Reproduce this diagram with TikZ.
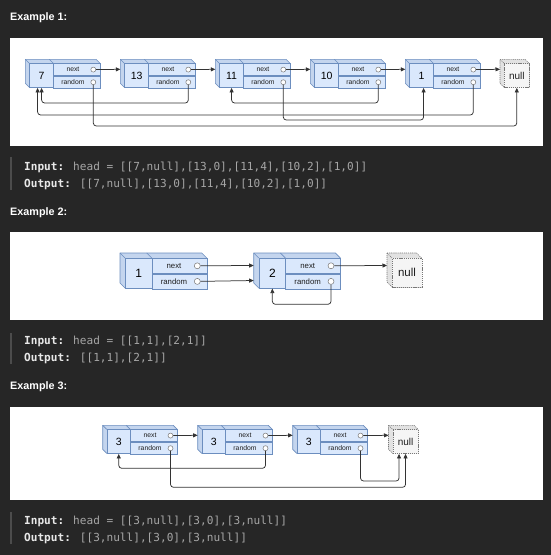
\documentclass[tikz,border=0pt]{standalone}
\usepackage{fontspec}
\setmainfont{Liberation Sans}
\newfontfamily\codefont{DejaVu Sans Mono}
\usetikzlibrary{arrows.meta}

\definecolor{pagebg}{HTML}{262626}
\definecolor{cubefront}{HTML}{DAE8FC}
\definecolor{cubeside}{HTML}{C4D5EE}
\definecolor{cubeedge}{HTML}{6C8EBF}
\definecolor{nullfront}{HTML}{F5F5F5}
\definecolor{nullside}{HTML}{E2E2E2}
\definecolor{nulledge}{HTML}{777777}
\definecolor{portedge}{HTML}{777777}
\definecolor{linkcol}{HTML}{333333}
\definecolor{labeltext}{HTML}{1E1E1E}
\definecolor{codelabel}{HTML}{E8E8E8}
\definecolor{codevalue}{HTML}{A6A6A6}
\definecolor{codebar}{HTML}{4C4C4C}

% size parameters of the list cells (set again before each example)
\def\cellvw{24}\def\cellfw{46.7}\def\cellh{24}\def\celld{4}
\def\cellpo{7.3}\def\celllo{4}\def\cellpr{5}
\def\cellvfs{10.5}\def\celllfs{6.8}\def\cellnfs{10}

\tikzset{
  cubeface/.style={fill=cubeside, draw=cubeedge, line width=0.6pt, line join=round},
  valbox/.style={draw=cubeedge, fill=cubefront, line width=0.6pt, inner sep=0pt,
    anchor=north west, text=black, font=\fontsize{\cellvfs}{\cellvfs}\selectfont},
  fieldbox/.style={draw=cubeedge, fill=cubefront, line width=0.6pt, inner sep=0pt, anchor=north west},
  fieldlabel/.style={inner sep=0pt, text=labeltext, font=\fontsize{\celllfs}{\celllfs}\selectfont},
  port/.style={circle, draw=portedge, fill=white, line width=0.5pt, inner sep=0pt, minimum size=\cellpr},
  nullface/.style={fill=nullside, draw=nulledge, line width=0.6pt, dash pattern=on 1.2pt off 0.9pt},
  nullbox/.style={draw=nulledge, fill=nullfront, line width=0.6pt, dash pattern=on 1.2pt off 0.9pt,
    inner sep=0pt, anchor=north west, text=labeltext, font=\fontsize{\cellnfs}{\cellnfs}\selectfont},
  link/.style={draw=linkcol, line width=0.75pt, rounded corners=3pt,
    -{Triangle[length=4.5pt,width=4pt]}},
  heading/.style={inner sep=0pt, anchor=base west, text=white,
    font=\fontsize{10.8}{13}\selectfont\bfseries},
  codeline/.style={inner sep=0pt, anchor=base west, text=codevalue,
    font=\fontsize{11.1}{13}\selectfont\codefont},
  codebarline/.style={draw=codebar, line width=1.8pt},
}

% a list cell: value cube plus next/random fields
% #1 name, #2 x of front face, #3 y of front face, #4 value
\newcommand\listcell[4]{%
  \pgfmathsetmacro\cellxm{#2+\cellvw}%
  \pgfmathsetmacro\cellxr{#2+\cellvw+\cellfw}%
  \pgfmathsetmacro\cellyb{#3+\cellh}%
  \filldraw[cubeface] (#2-\celld,#3-\celld) -- (\cellxr-\celld,#3-\celld) -- (\cellxr,#3)
    -- (\cellxr,\cellyb) -- (#2,\cellyb) -- (#2-\celld,\cellyb-\celld) -- cycle;
  \draw[cubeface, fill=none] (#2-\celld,#3-\celld) -- (#2,#3) (\cellxm-\celld,#3-\celld) -- (\cellxm,#3);
  \node[valbox, minimum width=\cellvw, minimum height=\cellh] (#1v) at (#2,#3) {#4};
  \node[fieldbox, minimum width=\cellfw, minimum height=\cellh/2] (#1n) at (\cellxm,#3) {};
  \node[fieldbox, minimum width=\cellfw, minimum height=\cellh/2] (#1r) at (#1n.south west) {};
  \node[fieldlabel] (#1nt) at ([xshift=-\celllo]#1n.center) {next};
  \node[fieldlabel] (#1rt) at ([xshift=-\celllo]#1r.center) {random};
  \node[port] (#1nc) at ([xshift=-\cellpo]#1n.east) {};
  \node[port] (#1rc) at ([xshift=-\cellpo]#1r.east) {};
  \coordinate (#1in) at (#2-\celld,#3+\cellh/4);
  \coordinate (#1inr) at (#2-\celld,#3+3*\cellh/4);
}

% the null cube: #1 name, #2 x, #3 y, #4 width, #5 height
\newcommand\nullcell[5]{%
  \filldraw[nullface] (#2-\celld,#3-\celld) -- (#2+#4-\celld,#3-\celld) -- (#2+#4,#3)
    -- (#2+#4,#3+#5) -- (#2,#3+#5) -- (#2-\celld,#3+#5-\celld) -- cycle;
  \draw[nullface, fill=none] (#2-\celld,#3-\celld) -- (#2,#3);
  \node[nullbox, minimum width=#4, minimum height=#5] (#1) at (#2,#3) {null};
  \coordinate (#1in) at (#2-\celld,#3+\cellh/4);
}

\begin{document}
\begin{tikzpicture}[x=1pt, y=-1pt]
\useasboundingbox (0,0) rectangle (551,555);
\fill[pagebg] (0,0) rectangle (551,555);

% ---------- Example 1 ----------
\node[heading] (h1) at (10,20) {Example 1:};
\fill[white] (10,38) rectangle (543,146);

\listcell{a1}{29.3}{63.3}{7}
\listcell{a2}{124.3}{63.3}{13}
\listcell{a3}{219.3}{63.3}{11}
\listcell{a4}{314.3}{63.3}{10}
\listcell{a5}{409.3}{63.3}{1}
\nullcell{n1}{504}{63.3}{25}{24}

\draw[link] (a1nc) -- (a2in);
\draw[link] (a2nc) -- (a3in);
\draw[link] (a3nc) -- (a4in);
\draw[link] (a4nc) -- (a5in);
\draw[link] (a5nc) -- (n1in);

\draw[link] (a2rc.south) -- (a2rc.south |- 0,103) -| (a1v.south);
\draw[link] (a4rc.south) -- (a4rc.south |- 0,103) -| (a3v.south);
\draw[link] (a5rc.south) -- (a5rc.south |- 0,115) -| ([xshift=-4]a1v.south);
\draw[link] (a3rc.south) -- (a3rc.south |- 0,120) -| ([xshift=2]a5v.south);
\draw[link] (a1rc.south) -- (a1rc.south |- 0,126) -| (n1.south);

\draw[codebarline] (11,157) -- (11,190);
\node[codeline] (in1) at (24,170) {{\bfseries\color{codelabel}Input:} head = [[7,null],[13,0],[11,4],[10,2],[1,0]]};
\node[codeline] (out1) at (24,187) {{\bfseries\color{codelabel}Output:} [[7,null],[13,0],[11,4],[10,2],[1,0]]};

% ---------- Example 2 ----------
\node[heading] (h2) at (10,215) {Example 2:};
\fill[white] (10,232) rectangle (543,320);

\def\cellvw{26.7}\def\cellfw{55}\def\cellh{30}\def\celld{5}
\def\cellpo{10}\def\celllo{5.5}\def\cellpr{6}
\def\cellvfs{12}\def\celllfs{7.8}\def\cellnfs{11.5}

\listcell{b1}{125}{258}{1}
\listcell{b2}{258.7}{258}{2}
\nullcell{n2}{392}{258}{29.5}{29}

\draw[link] (b1nc) -- (b2in);
\draw[link] (b1rc) -- (b2inr);
\draw[link] (b2nc) -- (n2in);
\draw[link] (b2rc.south) -- (b2rc.south |- 0,304.3) -| (b2v.south);

\draw[codebarline] (11,333) -- (11,364);
\node[codeline] (in2) at (24,344) {{\bfseries\color{codelabel}Input:} head = [[1,1],[2,1]]};
\node[codeline] (out2) at (24,361) {{\bfseries\color{codelabel}Output:} [[1,1],[2,1]]};

% ---------- Example 3 ----------
\node[heading] (h3) at (10,389) {Example 3:};
\fill[white] (10,407) rectangle (543,500);

\def\cellvw{23.5}\def\cellfw{47}\def\cellh{24}\def\celld{4}
\def\cellpo{7.3}\def\celllo{4}\def\cellpr{5}
\def\cellvfs{10.5}\def\celllfs{6.8}\def\cellnfs{10}

\listcell{c1}{106.7}{429.3}{3}
\listcell{c2}{201.7}{429.3}{3}
\listcell{c3}{296.7}{429.3}{3}
\nullcell{n3}{392.5}{429.3}{25.5}{24}

\draw[link] (c1nc) -- (c2in);
\draw[link] (c2nc) -- (c3in);
\draw[link] (c3nc) -- (n3in);

\draw[link] (c2rc.south) -- (c2rc.south |- 0,468.3) -| (c1v.south);
\draw[link] (c3rc.south) -- (c3rc.south |- 0,481) -| ([xshift=-6.5]n3.south);
\draw[link] (c1rc.south) -- (c1rc.south |- 0,487.3) -| (n3.south);

\draw[codebarline] (11,512) -- (11,544);
\node[codeline] (in3) at (24,524) {{\bfseries\color{codelabel}Input:} head = [[3,null],[3,0],[3,null]]};
\node[codeline] (out3) at (24,541) {{\bfseries\color{codelabel}Output:} [[3,null],[3,0],[3,null]]};
\end{tikzpicture}
\end{document}
